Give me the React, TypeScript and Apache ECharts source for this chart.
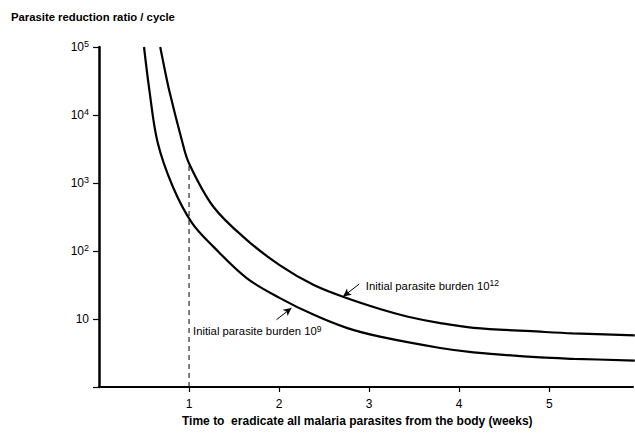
import React, { useEffect, useRef } from "react";
import * as echarts from "echarts";

// Time to clear all parasites (weeks) against the parasite reduction ratio per cycle
const upperT = [0.68, 0.71, 0.78, 0.92, 1.0, 1.27, 1.64, 2.01, 2.38, 2.71, 3.12, 3.42, 3.79, 4.16, 4.9, 5.26, 5.95];
const upperV = [100000, 63000, 22900, 4250, 1940, 448, 146, 61.5, 31.8, 21.2, 14.0, 10.9, 8.7, 7.4, 6.5, 6.15, 5.75];
const lowerT = [0.5, 0.56, 0.65, 0.82, 1.03, 1.27, 1.64, 2.01, 2.38, 2.75, 3.12, 3.79, 4.16, 4.9, 5.27, 5.95];
const lowerV = [100000, 22900, 4000, 880, 262, 116, 40, 20.3, 11.6, 7.4, 5.5, 3.75, 3.24, 2.72, 2.6, 2.45];

const xTicks = [1, 2, 3, 4, 5];
const yTicks = [1, 10, 100, 1000, 10000, 100000];

// One-week reference line, drawn up to the 10^12 curve
const refWeek = 1;
const refTop = upperV[upperT.indexOf(refWeek)];

const FONT = "'Liberation Sans', Arial, Helvetica, sans-serif";

const tickRich = {
  n: { fontSize: 12, lineHeight: 15, color: "#000", fontFamily: FONT },
  s: { fontSize: 9, lineHeight: 9, color: "#000", fontFamily: FONT, verticalAlign: "top" as const },
};

const noteRich = {
  n: { fontSize: 11.3, lineHeight: 14, color: "#000", fontFamily: FONT },
  s: { fontSize: 8.5, lineHeight: 8, color: "#000", fontFamily: FONT, verticalAlign: "top" as const },
};

export default function App() {
  const ref = useRef<HTMLDivElement>(null);

  useEffect(() => {
    const chart = echarts.init(ref.current!, null, { renderer: "svg" });
    const curve = {
      type: "line",
      smooth: 0.35,
      symbol: "none",
      clip: true,
      lineStyle: { color: "#000", width: 2.2 },
    };
    const arrow = {
      silent: true,
      symbol: ["none", "arrow"],
      symbolSize: [6, 8],
      label: { show: false },
      lineStyle: { color: "#000", width: 1, type: "solid" },
    };
    chart.setOption({
      animation: false,
      backgroundColor: "#fff",
      title: [
        {
          text: "Parasite reduction ratio / cycle",
          left: 11,
          top: 11,
          padding: 0,
          textStyle: { fontSize: 11.3, fontWeight: "bold", color: "#000", fontFamily: FONT },
        },
        {
          text: "Time to  eradicate all malaria parasites from the body (weeks)",
          left: 182,
          top: 415,
          padding: 0,
          textStyle: { fontSize: 12, fontWeight: "bold", color: "#000", fontFamily: FONT },
        },
      ],
      grid: { left: 99, right: 2, top: 47, bottom: 47 },
      xAxis: {
        type: "value",
        min: 0,
        max: 5.93,
        interval: 1,
        splitLine: { show: false },
        axisLine: { lineStyle: { color: "#000", width: 2 } },
        axisTick: { customValues: xTicks, length: 5, lineStyle: { color: "#000", width: 1.2 } },
        axisLabel: {
          customValues: xTicks,
          margin: 11,
          color: "#000",
          fontSize: 12,
          fontFamily: FONT,
        },
      },
      yAxis: {
        type: "log",
        logBase: 10,
        min: 1,
        max: 100000,
        splitLine: { show: false },
        minorTick: { show: false },
        axisLine: { lineStyle: { color: "#000", width: 2.5 } },
        axisTick: { customValues: yTicks, length: 6, lineStyle: { color: "#000", width: 1.2 } },
        axisLabel: {
          customValues: yTicks,
          margin: 10,
          formatter: (v: number) => {
            if (v <= 1) return "";
            const e = Math.round(Math.log10(v));
            return e === 1 ? "{n|10}" : `{n|10}{s|${e}}`;
          },
          rich: tickRich,
        },
      },
      series: [
        {
          ...curve,
          name: "Initial parasite burden 10^12",
          data: upperT.map((t, i) => [t, upperV[i]]),
          markLine: { ...arrow, data: [[{ coord: [2.889, 32.6] }, { coord: [2.711, 21.4] }]] },
          markPoint: {
            symbol: "circle",
            symbolSize: 0,
            label: {
              show: true,
              position: "right",
              distance: 0,
              formatter: "{n|Initial parasite burden 10}{s|12}",
              rich: noteRich,
            },
            data: [{ coord: [2.963, 30.8] }],
          },
        },
        {
          ...curve,
          name: "Initial parasite burden 10^9",
          data: lowerT.map((t, i) => [t, lowerV[i]]),
          markLine: { ...arrow, data: [[{ coord: [1.971, 9.77] }, { coord: [2.137, 14.5] }]] },
          markPoint: {
            symbol: "circle",
            symbolSize: 0,
            label: {
              show: true,
              position: "right",
              distance: 0,
              formatter: "{n|Initial parasite burden 10}{s|9}",
              rich: noteRich,
            },
            data: [{ coord: [1.044, 6.58] }],
          },
        },
        {
          name: "One week",
          type: "line",
          data: [
            [refWeek, 1],
            [refWeek, refTop],
          ],
          symbol: "none",
          lineStyle: { color: "#000", width: 1, type: [5, 4] },
        },
      ],
    });
    return () => chart.dispose();
  }, []);

  return (
    <div
      ref={ref}
      style={{ position: "fixed", left: 0, top: 0, width: 635, height: 434, background: "#fff" }}
    />
  );
}
